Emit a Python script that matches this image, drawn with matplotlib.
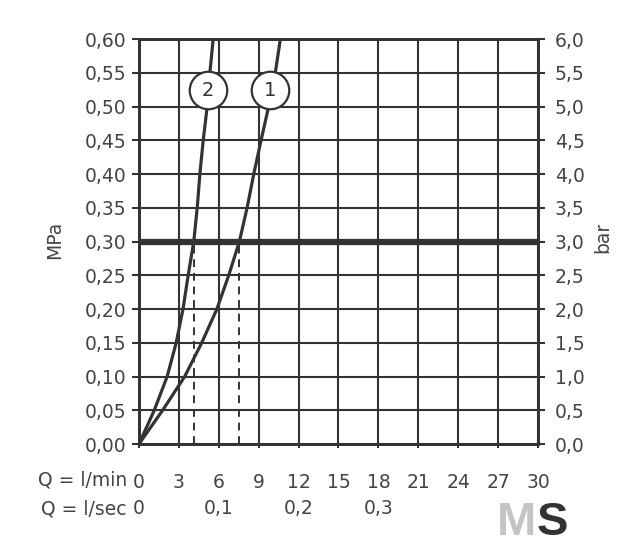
import matplotlib
matplotlib.use('agg')
import matplotlib.pyplot as plt

# flow (l/min) vs pressure (MPa)
q1 = [0, 1.78, 3.44, 4.72, 5.86, 6.75, 7.55, 8.13, 8.63, 9.18, 9.75, 10.25, 10.63]
p1 = [0, 0.05, 0.10, 0.15, 0.20, 0.25, 0.30, 0.35, 0.40, 0.45, 0.50, 0.55, 0.60]
q2 = [0, 1.15, 2.12, 2.80, 3.31, 3.70, 4.12, 4.38, 4.58, 4.83, 5.13, 5.33, 5.58]
p2 = [0, 0.05, 0.10, 0.15, 0.20, 0.25, 0.30, 0.35, 0.40, 0.45, 0.50, 0.55, 0.60]

ref_pressure = 0.30
ref_flows = [4.13, 7.52]
labels_pos = [(9.85, 0.524, '1'), (5.21, 0.524, '2')]

x_ticks = list(range(0, 31, 3))
mpa_ticks = [i * 0.05 for i in range(13)]
bar_ticks = [i * 0.5 for i in range(13)]
sec_pos = [0, 6, 12, 18]
sec_labels = ['0', '0,1', '0,2', '0,3']

ink = '#333333'
txt = '#444444'

fig = plt.figure(figsize=(6.41, 5.55), dpi=100)
ax = fig.add_axes([0.2168, 0.2, 0.6225, 0.7297])

ax.set_xlim(0, 30)
ax.set_ylim(0, 0.60)
ax.set_xticks(x_ticks)
ax.set_xticklabels([str(x) for x in x_ticks])
ax.set_yticks(mpa_ticks)
ax.set_yticklabels([('%.2f' % v).replace('.', ',') for v in mpa_ticks])
ax.grid(True, color=ink, lw=1.5)
ax.set_axisbelow(True)
for s in ax.spines.values():
    s.set_color(ink)
    s.set_linewidth(2)
ax.tick_params(axis='y', direction='out', length=5, width=1.5, color=ink,
               labelsize=13.5, labelcolor=txt, pad=4)
ax.tick_params(axis='x', direction='out', length=3, width=1.5, color=ink,
               labelsize=13.5, labelcolor=txt, pad=18)

ax2 = ax.twinx()
ax2.set_ylim(0, 6)
ax2.set_yticks(bar_ticks)
ax2.set_yticklabels([('%.1f' % v).replace('.', ',') for v in bar_ticks])
ax2.tick_params(axis='y', direction='out', length=5, width=1.5, color=ink,
                labelsize=13.5, labelcolor=txt, pad=7)
for s in ax2.spines.values():
    s.set_color(ink)
    s.set_linewidth(2)

ax.axhline(ref_pressure, color=ink, lw=4.5, zorder=3)
for q in ref_flows:
    ax.plot([q, q], [0, ref_pressure], color=ink, lw=1.4, ls=(0, (4, 3)), zorder=3)

ax.plot(q1, p1, color=ink, lw=2.3, zorder=4, solid_joinstyle='round')
ax.plot(q2, p2, color=ink, lw=2.3, zorder=4, solid_joinstyle='round')

for x, y, t in labels_pos:
    ax.plot(x, y, 'o', ms=27, mfc='white', mec=ink, mew=1.6, zorder=5)
    ax.text(x, y, t, ha='center', va='center', fontsize=14, color=ink, zorder=6)

ax.text(-0.03, -0.09, 'Q = l/min', transform=ax.transAxes, ha='right', va='center',
        fontsize=13.5, color=txt)
ax.text(-0.03, -0.16, 'Q = l/sec', transform=ax.transAxes, ha='right', va='center',
        fontsize=13.5, color=txt)
for x, t in zip(sec_pos, sec_labels):
    ax.text(x, -0.16, t, transform=ax.get_xaxis_transform(), ha='center', va='center',
            fontsize=13.5, color=txt)

fig.text(55 / 641, 1 - 240 / 555, 'MPa', rotation=90, ha='center', va='center',
         fontsize=13.5, color=txt)
fig.text(603 / 641, 1 - 237 / 555, 'bar', rotation=90, ha='center', va='center',
         fontsize=13.5, color=txt)

fig.text(517 / 641, 1 - 523 / 555, 'M', ha='center', va='center', fontsize=34,
         fontweight='bold', color='#c4c4c4', family='Liberation Sans')
fig.text(552 / 641, 1 - 523 / 555, 'S', ha='center', va='center', fontsize=34,
         fontweight='bold', color='#333333', family='Liberation Sans')

fig.savefig('out.png', dpi=100)
